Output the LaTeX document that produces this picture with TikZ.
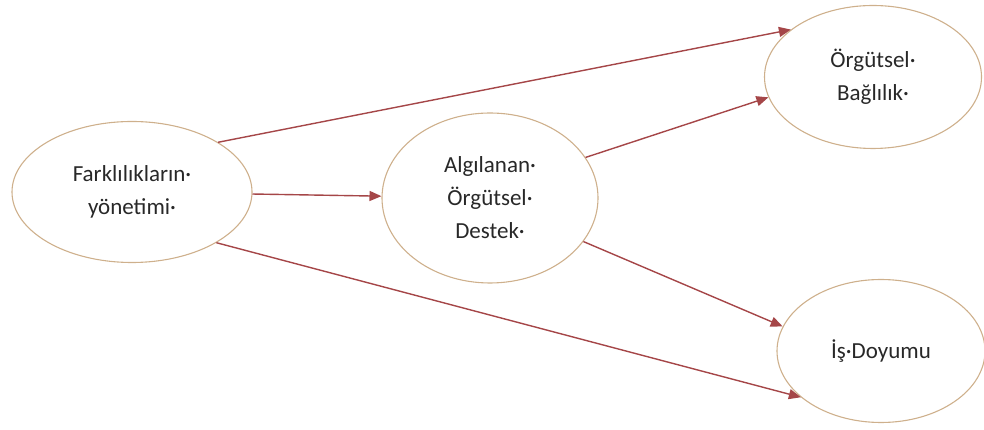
\documentclass[tikz,border=0pt]{standalone}
\usepackage{fontspec}
\setmainfont{Carlito}
\usepackage{xcolor}
\usetikzlibrary{arrows.meta,shapes.geometric}
\definecolor{ovalline}{RGB}{206,176,140}
\definecolor{arrowred}{RGB}{165,70,72}
\definecolor{textgray}{RGB}{40,40,40}

\begin{document}
\begin{tikzpicture}[x=1pt, y=1pt,
  oval/.style={ellipse, draw=ovalline, line width=1.1pt, align=center,
    inner sep=0pt, text=textgray, font=\fontsize{23}{33}\selectfont},
  arrow/.style={-{Triangle[length=12pt,width=10pt]}, draw=arrowred, fill=arrowred, line width=1.4pt}
]
\useasboundingbox (0,0) rectangle (984,430);
\node (fark) [oval, minimum width=240pt, minimum height=141pt] at (132,238) {Farklılıkların·\\yönetimi·};
\node (algi) [oval, minimum width=216pt, minimum height=170pt] at (490,232) {Algılanan·\\Örgütsel·\\Destek·};
\node (bagl) [oval, minimum width=217pt, minimum height=143pt] at (873,353) {Örgütsel·\\Bağlılık·};
\node (doyum) [oval, minimum width=208pt, minimum height=143pt] at (881,79) {İş·Doyumu};
\draw[arrow] (fark.30) -- (bagl.150);
\draw[arrow] (fark) -- (algi);
\draw[arrow] (fark.-31) -- (doyum.210);
\draw[arrow] (algi.23) -- (bagl.191);
\draw[arrow] (algi.-25) -- (doyum.166);
\end{tikzpicture}
\end{document}
